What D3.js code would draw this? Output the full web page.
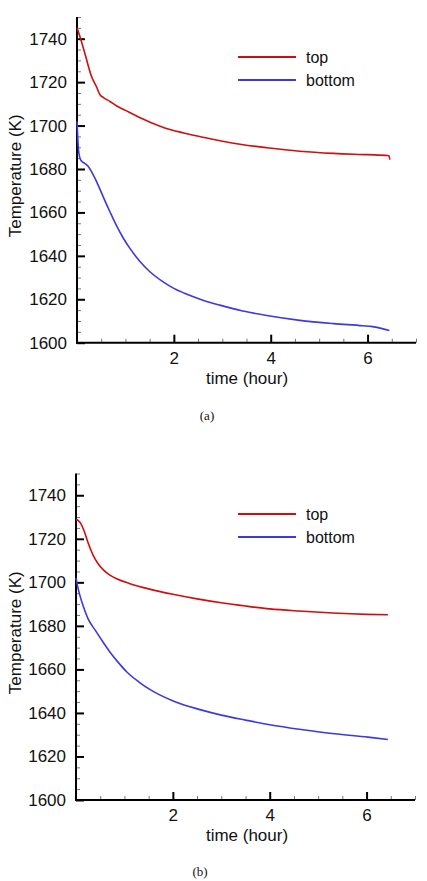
<!DOCTYPE html>
<html>
<head>
<meta charset="utf-8">
<script src="https://cdn.jsdelivr.net/npm/d3@7"></script>
<style>
  html, body { margin: 0; padding: 0; background: #fff; }
  svg { display: block; }
  text { font-family: "Liberation Sans", Arial, sans-serif; fill: #111; }
</style>
</head>
<body>
<svg id="chart" width="427" height="881"></svg>
<script>
// ---------- data ----------
const seriesNames = ["top", "bottom"];
const seriesColors = ["#cc1010", "#3a3ae0"];
const yTicks = [1600, 1620, 1640, 1660, 1680, 1700, 1720, 1740];
const xTicks = [2, 4, 6];
const panelLabels = ["(a)", "(b)"];

// panel (a)
const aTopTime = [0, 0.06, 0.17, 0.3, 0.4, 0.475, 0.54, 0.68, 0.82, 1.0, 1.16, 1.35, 1.51, 1.8, 2.2, 2.6, 2.95, 3.4, 3.92, 4.6, 5.3, 6.0, 6.42, 6.44, 6.46];
const aTopTemp = [1745, 1741, 1732.6, 1722.6, 1718, 1714.2, 1713, 1711.1, 1709.0, 1707.0, 1705.2, 1703.1, 1701.5, 1699.0, 1696.6, 1694.6, 1693.0, 1691.3, 1689.8, 1688.2, 1687.2, 1686.6, 1686.2, 1686.0, 1684.3];
const aBotTime = [0, 0.01, 0.03, 0.06, 0.1, 0.16, 0.22, 0.3, 0.38, 0.475, 0.58, 0.68, 0.8, 0.96, 1.1, 1.3, 1.5, 1.78, 2.0, 2.27, 2.6, 2.95, 3.4, 3.92, 4.6, 5.3, 5.9, 6.1, 6.26, 6.45];
const aBotTemp = [1702, 1697, 1689, 1685, 1683.5, 1682.6, 1681.5, 1678.8, 1675.3, 1670.6, 1665.2, 1660.3, 1654.6, 1648, 1643.2, 1637.4, 1632.8, 1628, 1625.0, 1622.3, 1619.6, 1617.3, 1614.7, 1612.5, 1610.3, 1608.8, 1607.8, 1607.4, 1606.7, 1605.6];

// panel (b)
const bTopTime = [0, 0.04, 0.1, 0.17, 0.23, 0.3, 0.36, 0.45, 0.57, 0.7, 0.85, 1.1, 1.5, 2.0, 2.5, 3.0, 3.5, 4.0, 4.6, 5.3, 6.0, 6.44];
const bTopTemp = [1729, 1728.5, 1727, 1723.5, 1719.5, 1715.2, 1712.2, 1708.8, 1705.6, 1703.3, 1701.5, 1699.5, 1697.0, 1694.5, 1692.4, 1690.6, 1689.1, 1687.8, 1686.8, 1685.9, 1685.3, 1685.1];
const bBotTime = [0, 0.03, 0.08, 0.15, 0.25, 0.4, 0.55, 0.7, 0.85, 1.05, 1.3, 1.54, 2.02, 2.58, 3.0, 3.5, 4.0, 4.65, 5.34, 6.03, 6.44];
const bBotTemp = [1702, 1698.5, 1694, 1689, 1683.2, 1677.9, 1672.8, 1668.0, 1663.8, 1658.8, 1654.2, 1650.6, 1645.4, 1641.4, 1639.0, 1636.7, 1634.6, 1632.4, 1630.4, 1628.9, 1627.8];

const panels = [
  { label: panelLabels[0], x0: 77, x1: 416, yTop: 17, yBot: 342.7, legTop: 57, capX: 207, capY: 420,
    series: [{ t: aTopTime, v: aTopTemp }, { t: aBotTime, v: aBotTemp }] },
  { label: panelLabels[1], x0: 76, x1: 415, yTop: 473.5, yBot: 800, legTop: 514, capX: 200, capY: 876,
    series: [{ t: bTopTime, v: bTopTemp }, { t: bBotTime, v: bBotTemp }] }
];

const FS = 17;
const svg = d3.select("#chart");

panels.forEach(p => {
  const x = d3.scaleLinear().domain([0, 7]).range([p.x0, p.x1]);
  const y = d3.scaleLinear().domain([1600, 1750]).range([p.yBot, p.yTop]);
  const g = svg.append("g");

  // minor ticks
  const xMinor = d3.range(0.5, 7.01, 0.5).filter(v => Math.abs(v % 2) > 1e-6);
  const yMinor = d3.range(1605, 1750.01, 5).filter(v => Math.abs(v % 20) > 1e-6);
  g.append("g").attr("transform", `translate(0,${p.yBot})`)
    .call(d3.axisBottom(x).tickValues(xMinor).tickSize(-4).tickFormat(""))
    .call(s => s.select(".domain").remove())
    .call(s => s.selectAll("line").attr("stroke", "#777").attr("stroke-width", 1));
  g.append("g").attr("transform", `translate(${p.x0},0)`)
    .call(d3.axisLeft(y).tickValues(yMinor).tickSize(-4).tickFormat(""))
    .call(s => s.select(".domain").remove())
    .call(s => s.selectAll("line").attr("stroke", "#777").attr("stroke-width", 1));

  // major axes
  const xa = g.append("g").attr("transform", `translate(0,${p.yBot})`)
    .call(d3.axisBottom(x).tickValues(xTicks).tickSize(-8).tickPadding(9).tickFormat(d3.format("d")));
  xa.select(".domain").remove();
  xa.selectAll("line").attr("stroke", "#000").attr("stroke-width", 2);
  xa.selectAll("text").attr("font-size", FS).attr("fill", "#111").style("font-family", "Liberation Sans, Arial, sans-serif");

  const ya = g.append("g").attr("transform", `translate(${p.x0},0)`)
    .call(d3.axisLeft(y).tickValues(yTicks).tickSize(-8).tickPadding(10).tickFormat(d3.format("d")));
  ya.select(".domain").remove();
  ya.selectAll("line").attr("stroke", "#000").attr("stroke-width", 2);
  ya.selectAll("text").attr("font-size", FS).attr("fill", "#111").style("font-family", "Liberation Sans, Arial, sans-serif");

  // axis lines
  g.append("line").attr("x1", p.x0).attr("x2", p.x0).attr("y1", p.yTop).attr("y2", p.yBot + 1)
    .attr("stroke", "#000").attr("stroke-width", 2);
  g.append("line").attr("x1", p.x0 - 1).attr("x2", p.x1).attr("y1", p.yBot).attr("y2", p.yBot)
    .attr("stroke", "#000").attr("stroke-width", 2);

  // data lines
  const line = d3.line().x(d => x(d[0])).y(d => y(d[1])).curve(d3.curveMonotoneX);
  p.series.forEach((s, i) => {
    const pts = s.t.map((t, k) => [t, s.v[k]]);
    g.append("path").attr("d", line(pts)).attr("fill", "none")
      .attr("stroke", seriesColors[i]).attr("stroke-width", 1.6);
  });

  // legend
  seriesNames.forEach((name, i) => {
    const ly = p.legTop + i * 23;
    g.append("line").attr("x1", 238).attr("x2", 296).attr("y1", ly).attr("y2", ly)
      .attr("stroke", seriesColors[i]).attr("stroke-width", 2);
    g.append("text").attr("x", 306).attr("y", ly + 6).attr("font-size", 16).text(name);
  });

  // axis titles
  g.append("text").attr("x", 247).attr("y", p.yBot + 41).attr("text-anchor", "middle")
    .attr("font-size", FS).text("time (hour)");
  g.append("text").attr("transform", `translate(21,${(p.yTop + p.yBot) / 2 - 4}) rotate(-90)`)
    .attr("text-anchor", "middle").attr("font-size", FS).text("Temperature (K)");

  // caption
  svg.append("text").attr("x", p.capX).attr("y", p.capY).attr("text-anchor", "middle")
    .attr("font-size", 13).style("font-family", "Liberation Serif, serif").text(p.label);
});
</script>
</body>
</html>
